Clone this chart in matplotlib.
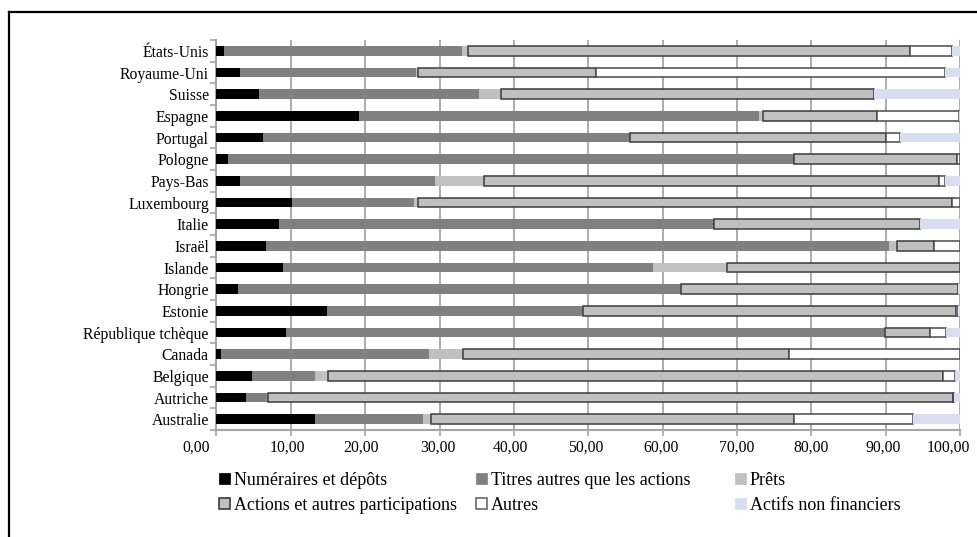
import numpy as np
import matplotlib
matplotlib.use("Agg")
import matplotlib.pyplot as plt
from matplotlib.patches import Patch
from matplotlib.lines import Line2D
from matplotlib.transforms import ScaledTranslation

plt.rcParams['font.family'] = ['Liberation Serif', 'DejaVu Serif']

countries = ["Australie", "Autriche", "Belgique", "Canada", "République tchèque",
             "Estonie", "Hongrie", "Islande", "Israël", "Italie", "Luxembourg",
             "Pays-Bas", "Pologne", "Portugal", "Espagne", "Suisse",
             "Royaume-Uni", "États-Unis"]

numeraires = [13.2, 4.0, 4.8, 0.6, 9.3, 14.8, 2.9, 9.0, 6.6, 8.4, 10.1, 3.1, 1.5, 6.2, 19.2, 5.7, 3.1, 1.0]
titres     = [14.6, 2.8, 8.4, 28.0, 80.6, 34.5, 59.6, 49.7, 83.9, 58.5, 16.4, 26.3, 76.2, 49.4, 53.8, 29.6, 23.7, 32.0]
prets      = [1.1, 0.1, 1.8, 4.6, 0.0, 0.0, 0.0, 9.9, 1.0, 0.0, 0.6, 6.6, 0.0, 0.0, 0.5, 3.0, 0.3, 0.8]
actions    = [48.8, 92.1, 82.7, 43.8, 6.1, 50.2, 37.2, 31.4, 5.0, 27.7, 71.8, 61.2, 21.9, 34.5, 15.4, 50.2, 24.0, 59.5]
autres     = [16.0, 0.2, 1.6, 23.0, 2.1, 0.2, 0.0, 0.0, 3.5, 0.0, 1.1, 0.8, 0.4, 1.8, 11.0, 0.0, 46.9, 5.6]
non_fin    = [6.3, 0.8, 0.7, 0.0, 1.9, 0.3, 0.3, 0.0, 0.0, 5.4, 0.0, 2.0, 0.0, 8.1, 0.1, 11.5, 2.0, 1.1]

series_labels = ["Numéraires et dépôts", "Titres autres que les actions", "Prêts",
                 "Actions et autres participations", "Autres", "Actifs non financiers"]
x_ticks = [0, 10, 20, 30, 40, 50, 60, 70, 80, 90, 100]

W, H = 978, 537
fig = plt.figure(figsize=(W / 100, H / 100), dpi=100)
ax = fig.add_axes([216.5 / W, 1 - 430 / H, (960 - 216.5) / W, (430 - 40) / H])

y = np.arange(len(countries))
bh = 0.44
styles = [
    dict(color="#000000", edgecolor="none"),
    dict(color="#808080", edgecolor="none"),
    dict(color="#c0c0c0", edgecolor="none"),
    dict(color="#c0c0c0", edgecolor="#3c3c3c"),
    dict(color="#ffffff", edgecolor="#4a4a4a"),
    dict(color="#d6deef", edgecolor="none"),
]
data = [numeraires, titres, prets, actions, autres, non_fin]
left = np.zeros(len(countries))
for vals, st, lab in zip(data, styles, series_labels):
    v = np.array(vals)
    lw = np.where(v > 0, 1.1, 0.0) if st["edgecolor"] != "none" else 0
    ax.barh(y, v, left=left, height=bh, color=st["color"], edgecolor=st["edgecolor"],
            linewidth=lw, zorder=3, label=lab)
    left += v

ax.set_xlim(0, 100)
ax.set_ylim(-0.5, len(countries) - 0.5)
ax.set_xticks(x_ticks)
ax.set_xticklabels([f"{t:.2f}".replace(".", ",") for t in x_ticks])
ax.set_yticks(y)
ax.set_yticklabels(countries)
ax.set_yticks(np.arange(-0.5, len(countries), 1.0), minor=True)

grid_c = "#a6a6a6"
ax.grid(axis="x", color=grid_c, linewidth=1.3, zorder=0)
ax.set_axisbelow(True)
for s in ["top", "right"]:
    ax.spines[s].set_visible(False)
for s in ["left", "bottom"]:
    ax.spines[s].set_color(grid_c)
    ax.spines[s].set_linewidth(1.5)

ax.tick_params(axis="y", which="major", length=0, pad=5.5, labelsize=11.3)
ax.tick_params(axis="y", which="minor", length=4, color=grid_c, width=1.2)
ax.tick_params(axis="x", which="major", length=4, color=grid_c, width=1.2, pad=3, labelsize=11.3)

offsets = [-20, -3, -4, -2, -3, -2, -2, 0, 0, -2, -12]
for lbl, off in zip(ax.get_xticklabels(), offsets):
    lbl.set_transform(lbl.get_transform() + ScaledTranslation(off / 100, 0, fig.dpi_scale_trans))

# legend, three columns placed individually
handles = [
    Patch(facecolor="#000000", edgecolor="#000000", linewidth=0.5),
    Patch(facecolor="#808080", edgecolor="#808080", linewidth=0.5),
    Patch(facecolor="#c0c0c0", edgecolor="#c0c0c0", linewidth=0.5),
    Patch(facecolor="#c0c0c0", edgecolor="#3c3c3c", linewidth=1.2),
    Patch(facecolor="#ffffff", edgecolor="#6a6a6a", linewidth=1.2),
    Patch(facecolor="#d6deef", edgecolor="#d6deef", linewidth=0.5),
]
cols = [(0, 3, 219), (1, 4, 476), (2, 5, 735)]
top_y = 1 - 472 / H
for a, b, xpx in cols:
    leg = fig.legend([handles[a], handles[b]], [series_labels[a], series_labels[b]],
                     loc="upper left", bbox_to_anchor=(xpx / W, top_y),
                     frameon=False, fontsize=13, borderpad=0, borderaxespad=0,
                     handlelength=0.62, handleheight=0.58, handletextpad=0.2,
                     labelspacing=0.45)

# outer frame (cut at right and bottom edges)
fig.add_artist(Line2D([9 / W, 1.0], [1 - 12 / H, 1 - 12 / H], transform=fig.transFigure,
                      color="black", linewidth=1.6))
fig.add_artist(Line2D([9 / W, 9 / W], [0.0, 1 - 12 / H], transform=fig.transFigure,
                      color="black", linewidth=1.6))

fig.savefig("out.png", dpi=100)
